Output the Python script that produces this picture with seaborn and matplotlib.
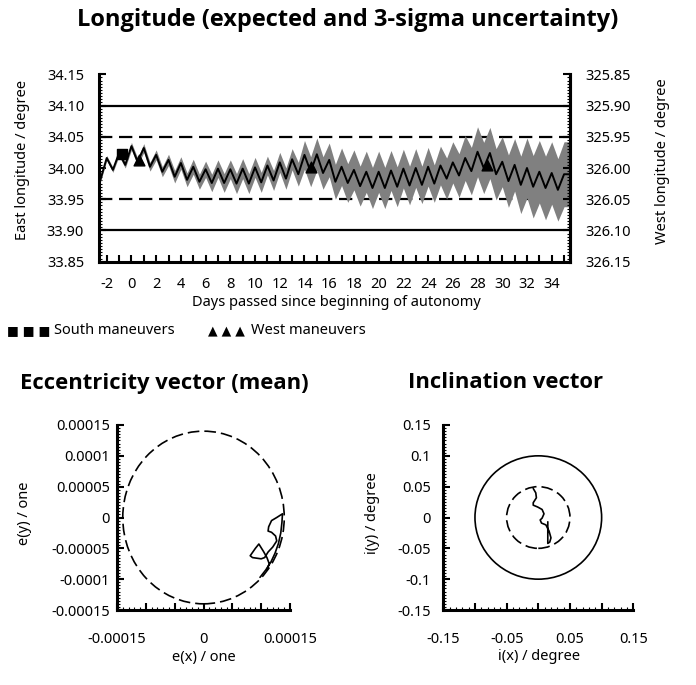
import numpy as np
import matplotlib
matplotlib.use('Agg')
import matplotlib.pyplot as plt
from matplotlib.ticker import MultipleLocator, FixedLocator, FixedFormatter, FormatStrFormatter
from matplotlib.patches import Circle
import seaborn as sns

sns.set_style('ticks')
plt.rcParams['font.family'] = ['Noto Sans', 'DejaVu Sans']
plt.rcParams['font.size'] = 10.5
plt.rcParams['axes.unicode_minus'] = False
for key in ['text.color', 'axes.labelcolor', 'xtick.color', 'ytick.color', 'axes.edgecolor']:
    plt.rcParams[key] = 'black'

# --- longitude (half-day extrema of the daily oscillation) ---
days = np.arange(-2.5, 35.6, 0.5)
lon_mean = [33.982, 34.016, 33.997, 34.024, 34.005, 34.035, 34.010, 34.032, 34.002, 34.021,
            33.994, 34.013, 33.986, 34.008, 33.981, 34.002, 33.978, 33.998, 33.976, 33.999,
            33.976, 33.998, 33.975, 33.999, 33.975, 34.001, 33.977, 34.004, 33.980, 34.009,
            33.983, 34.014, 33.990, 34.021, 33.994, 34.022, 33.992, 34.013, 33.978, 34.002,
            33.976, 33.997, 33.971, 33.994, 33.968, 33.994, 33.968, 33.996, 33.970, 33.999,
            33.972, 34.000, 33.973, 34.002, 33.975, 34.004, 33.983, 34.009, 33.988, 34.016,
            33.995, 34.026, 34.000, 34.024, 33.990, 34.010, 33.979, 34.005, 33.973, 34.000,
            33.970, 33.994, 33.968, 33.992, 33.965, 33.990, 33.990]
lon_3sigma = [0.004, 0.004, 0.004, 0.005, 0.005, 0.006, 0.006, 0.007, 0.007, 0.008,
              0.008, 0.009, 0.010, 0.010, 0.011, 0.012, 0.012, 0.013, 0.014, 0.014,
              0.015, 0.015, 0.016, 0.016, 0.016, 0.016, 0.016, 0.015, 0.016, 0.016,
              0.017, 0.017, 0.019, 0.023, 0.024, 0.026, 0.026, 0.027, 0.028, 0.030,
              0.031, 0.032, 0.032, 0.033, 0.033, 0.033, 0.033, 0.032, 0.032, 0.031,
              0.031, 0.031, 0.030, 0.031, 0.030, 0.031, 0.033, 0.033, 0.035, 0.036,
              0.038, 0.040, 0.041, 0.041, 0.041, 0.040, 0.042, 0.042, 0.046, 0.048,
              0.050, 0.050, 0.051, 0.050, 0.050, 0.052, 0.052]
south_days = [-0.74]
south_lon = [34.022]
west_days = [0.61, 14.53, 28.74]
west_lon = [34.013, 34.001, 34.005]
limit_solid = [33.90, 34.10]
limit_dashed = [33.95, 34.05]
east_ticks = [33.85, 33.90, 33.95, 34.00, 34.05, 34.10, 34.15]
west_ticks = [325.85, 325.90, 325.95, 326.00, 326.05, 326.10, 326.15]

# --- eccentricity vector (mean) ---
ecc_x = [0.000098, 0.000108, 0.000117, 0.000124, 0.000130, 0.000134, 0.000136, 0.000137,
         0.000127, 0.000118, 0.000113, 0.000112, 0.000118, 0.000125, 0.000127, 0.000120,
         0.000112, 0.000106, 0.000100, 0.000085, 0.000081, 0.000090, 0.000096, 0.000104,
         0.000110, 0.000114, 0.000110]
ecc_y = [-0.000097, -0.000085, -0.000072, -0.000058, -0.000042, -0.000025, -0.000008, 0.000006,
         0.000000, -0.000005, -0.000015, -0.000022, -0.000024, -0.000030, -0.000038, -0.000048,
         -0.000056, -0.000065, -0.000067, -0.000065, -0.000062, -0.000050, -0.000043, -0.000055,
         -0.000065, -0.000075, -0.000085]
ecc_radius = 0.00014
ecc_ticks = [-0.00015, -0.0001, -0.00005, 0, 0.00005, 0.0001, 0.00015]
ecc_ylabels = ['-0.00015', '-0.0001', '-0.00005', '0', '0.00005', '0.0001', '0.00015']
ecc_xlabels = ['-0.00015', '', '', '0', '', '', '0.00015']

# --- inclination vector ---
inc_x = [-0.008, -0.004, -0.003, -0.008, -0.008, -0.001, 0.006, 0.009, 0.006, 0.003,
         0.005, 0.012, 0.017, 0.020, 0.018, 0.015, 0.015]
inc_y = [0.047, 0.040, 0.032, 0.024, 0.020, 0.017, 0.013, 0.006, -0.001, -0.004,
         -0.009, -0.012, -0.022, -0.033, -0.040, -0.042, -0.007]
inc_radius_inner = 0.05
inc_radius_outer = 0.1
inc_ticks = [-0.15, -0.1, -0.05, 0, 0.05, 0.1, 0.15]
inc_ylabels = ['-0.15', '-0.1', '-0.05', '0', '0.05', '0.1', '0.15']
inc_xlabels = ['-0.15', '', '-0.05', '', '0.05', '', '0.15']

fig = plt.figure(figsize=(6.96, 6.85), dpi=100)
W, H = 696.0, 685.0
bold_font = ['Open Sans', 'DejaVu Sans']


def fx(px):
    return px / W


def fy(py):
    return 1 - py / H


def style_spines(ax, sides):
    for s in ['top', 'right', 'left', 'bottom']:
        ax.spines[s].set_visible(s in sides)
        ax.spines[s].set_linewidth(2.2)


# ---------------- top: longitude ----------------
ax = fig.add_axes([fx(99.3), fy(261.7), fx(570 - 99.3), (261.7 - 74.3) / H])
lon_mean = np.array(lon_mean)
lon_3sigma = np.array(lon_3sigma)
ax.fill_between(days, lon_mean - lon_3sigma, lon_mean + lon_3sigma, color='#808080', lw=0, zorder=2)
sns.lineplot(x=days, y=lon_mean, ax=ax, color='black', lw=1.4, sort=False, estimator=None, zorder=3,
             solid_joinstyle='round')
for v in limit_solid:
    ax.axhline(v, color='black', lw=1.6, zorder=1)
for v in limit_dashed:
    ax.axhline(v, color='black', lw=1.6, dashes=(6, 3), zorder=1)
ax.scatter(south_days, south_lon, marker='s', s=55, color='black', zorder=4)
ax.scatter(west_days, west_lon, marker='^', s=60, color='black', zorder=4)

ax.set_xlim(-2.6, 35.48)
ax.set_ylim(33.85, 34.15)
ax.xaxis.set_major_locator(MultipleLocator(2))
ax.xaxis.set_minor_locator(MultipleLocator(1))
ax.yaxis.set_major_locator(FixedLocator(east_ticks))
ax.yaxis.set_major_formatter(FormatStrFormatter('%.2f'))
ax.yaxis.set_minor_locator(MultipleLocator(0.005))
ax.tick_params(axis='x', which='both', direction='in', length=5, width=1.5, pad=11)
ax.tick_params(axis='y', which='major', direction='in', length=5, width=1.5, pad=11)
ax.tick_params(axis='y', which='minor', direction='in', length=2.5, width=0.8)
style_spines(ax, ['left', 'bottom', 'right'])
ax.set_xlabel('')
ax.set_ylabel('')

ax2 = ax.twinx()
ax2.set_ylim(326.15, 325.85)
ax2.yaxis.set_major_locator(FixedLocator(west_ticks))
ax2.yaxis.set_major_formatter(FormatStrFormatter('%.2f'))
ax2.yaxis.set_minor_locator(MultipleLocator(0.005))
ax2.tick_params(axis='y', which='major', direction='in', length=5, width=1.5, pad=11)
ax2.tick_params(axis='y', which='minor', direction='in', length=2.5, width=0.8)
style_spines(ax2, ['right'])

fig.text(0.5, fy(20), 'Longitude (expected and 3-sigma uncertainty)', ha='center', va='center',
         fontsize=17, fontweight='bold', family=bold_font)
fig.text(fx(22), fy(160), 'East longitude / degree', rotation=90, ha='center', va='center')
fig.text(fx(662), fy(161), 'West longitude / degree', rotation=90, ha='center', va='center')
fig.text(fx(336), fy(303), 'Days passed since beginning of autonomy', ha='center', va='center')

fig.text(fx(7), fy(331), '■ ■ ■', ha='left', va='center', fontsize=9, family='DejaVu Sans')
fig.text(fx(54), fy(331), 'South maneuvers', ha='left', va='center')
fig.text(fx(208), fy(331), '▲ ▲ ▲', ha='left', va='center', fontsize=9, family='DejaVu Sans')
fig.text(fx(251), fy(331), 'West maneuvers', ha='left', va='center')

# ---------------- bottom left: eccentricity ----------------
axe = fig.add_axes([fx(117), fy(610), fx(290 - 117), (610 - 425) / H])
axe.add_patch(Circle((0, 0), ecc_radius, fill=False, ec='black', lw=1.2, ls=(0, (7, 3))))
sns.lineplot(x=ecc_x, y=ecc_y, ax=axe, color='black', lw=1.2, sort=False, estimator=None)
axe.set_xlim(-0.00015, 0.00015)
axe.set_ylim(-0.00015, 0.00015)
axe.xaxis.set_major_locator(FixedLocator(ecc_ticks))
axe.xaxis.set_major_formatter(FixedFormatter(ecc_xlabels))
axe.yaxis.set_major_locator(FixedLocator(ecc_ticks))
axe.yaxis.set_major_formatter(FixedFormatter(ecc_ylabels))
axe.xaxis.set_minor_locator(MultipleLocator(0.00001))
axe.yaxis.set_minor_locator(MultipleLocator(0.000005))
axe.tick_params(axis='x', which='major', direction='in', length=5, width=1.5, pad=16)
axe.tick_params(axis='y', which='major', direction='in', length=5, width=1.5, pad=5)
axe.tick_params(which='minor', direction='in', length=2, width=0.8)
style_spines(axe, ['left', 'bottom'])

fig.text(fx(20), fy(383), 'Eccentricity vector (mean)', ha='left', va='center',
         fontsize=15.8, fontweight='bold', family=bold_font)
fig.text(fx(25), fy(513), 'e(y) / one', rotation=90, ha='center', va='center')
fig.text(fx(204), fy(657), 'e(x) / one', ha='center', va='center')

# ---------------- bottom right: inclination ----------------
axi = fig.add_axes([fx(443.3), fy(610), fx(633.3 - 443.3), (610 - 425) / H])
axi.add_patch(Circle((0, 0), inc_radius_outer, fill=False, ec='black', lw=1.2))
axi.add_patch(Circle((0, 0), inc_radius_inner, fill=False, ec='black', lw=1.2, ls=(0, (7, 3))))
sns.lineplot(x=inc_x, y=inc_y, ax=axi, color='black', lw=1.2, sort=False, estimator=None)
axi.set_xlim(-0.15, 0.15)
axi.set_ylim(-0.15, 0.15)
axi.xaxis.set_major_locator(FixedLocator(inc_ticks))
axi.xaxis.set_major_formatter(FixedFormatter(inc_xlabels))
axi.yaxis.set_major_locator(FixedLocator(inc_ticks))
axi.yaxis.set_major_formatter(FixedFormatter(inc_ylabels))
axi.xaxis.set_minor_locator(MultipleLocator(0.01))
axi.yaxis.set_minor_locator(MultipleLocator(0.005))
axi.tick_params(axis='x', which='major', direction='in', length=5, width=1.5, pad=16)
axi.tick_params(axis='y', which='major', direction='in', length=5, width=1.5, pad=9)
axi.tick_params(which='minor', direction='in', length=2, width=0.8)
style_spines(axi, ['left', 'bottom'])

fig.text(fx(408), fy(383), 'Inclination vector', ha='left', va='center',
         fontsize=15.8, fontweight='bold', family=bold_font)
fig.text(fx(373), fy(513), 'i(y) / degree', rotation=90, ha='center', va='center')
fig.text(fx(539), fy(657), 'i(x) / degree', ha='center', va='center')

fig.savefig('out.png', dpi=100)
